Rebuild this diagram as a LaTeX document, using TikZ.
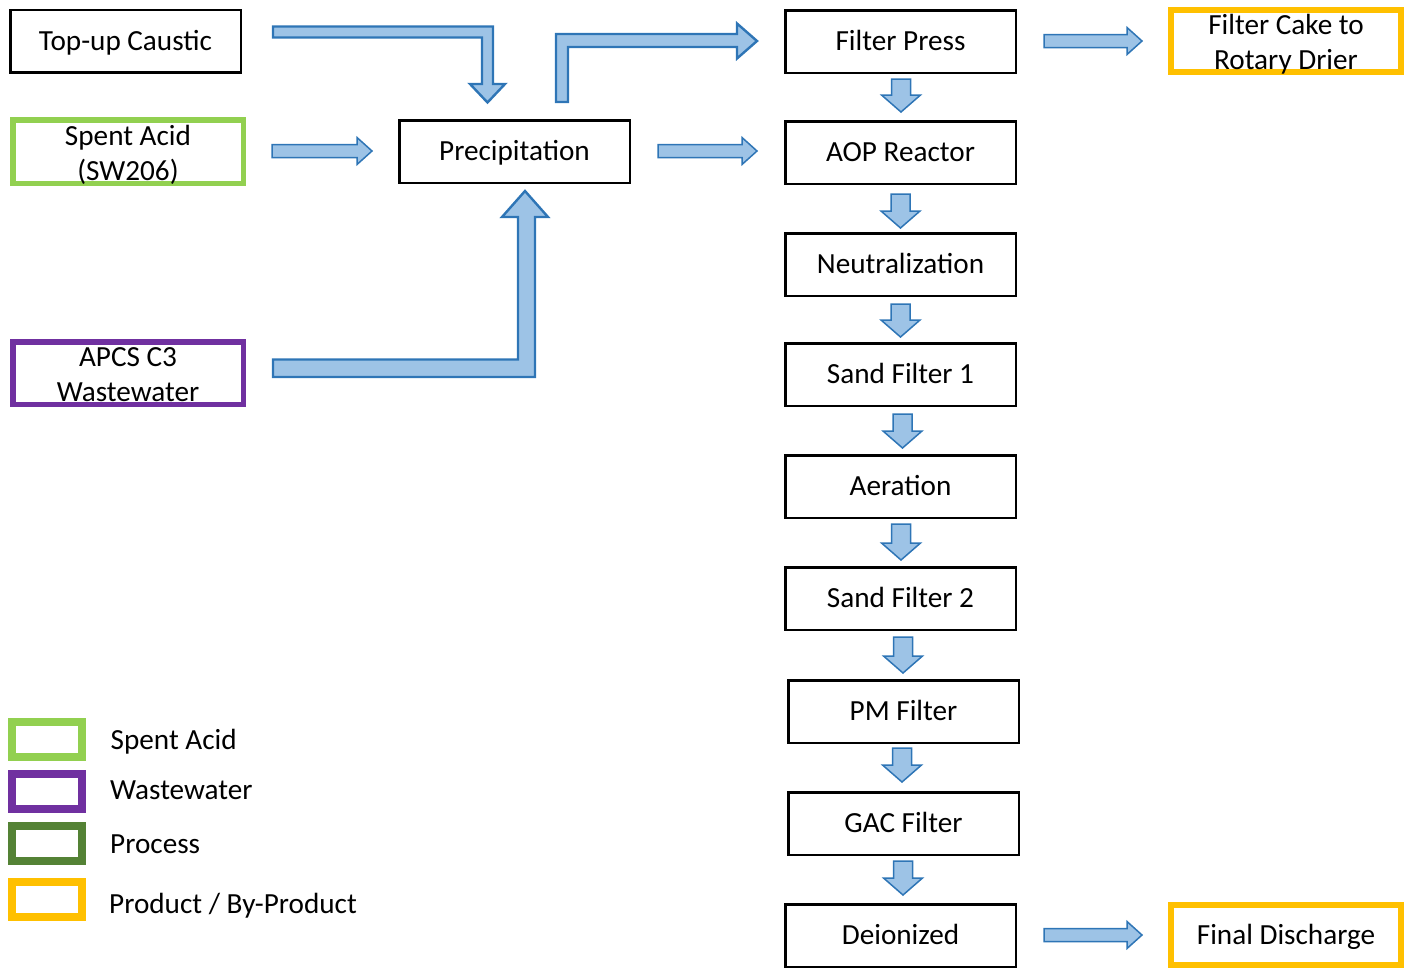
\documentclass[tikz,border=0pt]{standalone}
\usepackage{fontspec}
\setmainfont{Carlito}
\usetikzlibrary{calc}
\definecolor{blkfill}{HTML}{9DC3E6}
\definecolor{blkline}{HTML}{2E75B6}
\definecolor{acidgreen}{HTML}{92D050}
\definecolor{wwpurple}{HTML}{7030A0}
\definecolor{procgreen}{HTML}{548235}
\definecolor{prodorange}{HTML}{FFC000}
\newcommand\blkright[2]{\path[blk] let \p1=#1, \p2=#2 in
  (\x1,\y1+6.5pt) -- (\x2-15pt,\y1+6.5pt) -- (\x2-15pt,\y1+13.5pt) -- (\x2,\y1)
  -- (\x2-15pt,\y1-13.5pt) -- (\x2-15pt,\y1-6.5pt) -- (\x1,\y1-6.5pt) -- cycle;}
\newcommand\blkdown[2]{\path[blk] let \p1=#1, \p2=#2 in
  (\x1-9.5pt,\y1) -- (\x1-9.5pt,\y2+17pt) -- (\x1-19.5pt,\y2+17pt) -- (\x1,\y2)
  -- (\x1+19.5pt,\y2+17pt) -- (\x1+9.5pt,\y2+17pt) -- (\x1+9.5pt,\y1) -- cycle;}
\begin{document}
\begin{tikzpicture}[x=1pt,y=-1pt,
  txt/.style={font=\fontsize{29.2}{35}\selectfont},
  one/.style={text height=24.4pt, text depth=6pt},
  box/.style={txt, draw=black, line width=2.5pt, fill=white, inner sep=0pt,
    minimum width=230.5pt, minimum height=62.5pt},
  cbox/.style={txt, draw=#1, line width=5.5pt, fill=white, inner sep=0pt,
    minimum width=230.5pt, minimum height=62.5pt},
  legbox/.style={draw=#1, line width=8pt, fill=white, minimum width=70pt, minimum height=35pt, inner sep=0pt},
  legtxt/.style={txt, one, anchor=west, inner sep=0pt},
  blk/.style={fill=blkfill, draw=blkline, line width=1.5pt, line join=miter},
  bigblk/.style={fill=blkfill, draw=blkline, line width=2.4pt, line join=miter}]
\useasboundingbox (0,0) rectangle (1416,970);

% left column
\node[box, one] (caustic) at (125.5,41) {Top-up Caustic};
\node[cbox=acidgreen, minimum height=63.5pt,
  label={[txt, align=center, yshift=-3.5pt]center:Spent Acid\\(SW206)}] (spent) at (128,151.5) {};
\node[cbox=wwpurple,
  label={[txt, align=center, yshift=-1.5pt]center:APCS C3\\Wastewater}] (apcs) at (128,373) {};

% precipitation
\node[box, one] (precip) at (514.5,151.5) {Precipitation};

% process column
\node[box, one] (fp)   at (900.5,41.5)  {Filter Press};
\node[box, one] (aop)  at (900.5,152.5) {AOP Reactor};
\node[box, one] (neut) at (900.5,264.5) {Neutralization};
\node[box, one] (sf1)  at (900.5,374.5) {Sand Filter 1};
\node[box, one] (aer)  at (900.5,486.5) {Aeration};
\node[box, one] (sf2)  at (900.5,598.5) {Sand Filter 2};
\node[box, one] (pm)   at (903.5,711.5) {PM Filter};
\node[box, one] (gac)  at (903.5,823.5) {GAC Filter};
\node[box, one] (dei)  at (900.5,935.5) {Deionized};

% products
\node[cbox=prodorange, line width=6pt, minimum width=230pt, minimum height=62pt,
  label={[txt, align=center, yshift=-3.5pt]center:Filter Cake to\\Rotary Drier}] (cake) at (1286,41) {};
\node[cbox=prodorange, one, line width=6pt, minimum width=230pt, minimum height=60pt] (final) at (1286,935) {Final Discharge};

% straight block arrows
\blkright{($(spent.east)+(26,-0.5)$)}{($(precip.west)+(-26,0)$)}
\blkright{($(precip.east)+(27,-0.5)$)}{($(aop.west)+(-27,0)$)}
\blkright{($(fp.east)+(27,-0.5)$)}{($(cake.west)+(-26,0)$)}
\blkright{($(dei.east)+(27,-0.5)$)}{($(final.west)+(-26,0)$)}

\blkdown{($(fp.south)+(0.5,5)$)}{($(aop.north)+(0,-8)$)}
\blkdown{($(aop.south)+(0,9)$)}{($(neut.north)+(0,-4)$)}
\blkdown{($(neut.south)+(0,7)$)}{($(sf1.north)+(0,-5)$)}
\blkdown{($(sf1.south)+(2,7)$)}{($(aer.north)+(0,-6)$)}
\blkdown{($(aer.south)+(0.5,5)$)}{($(sf2.north)+(0,-6)$)}
\blkdown{($(sf2.south)+(2.5,6)$)}{($(pm.north)+(0,-6)$)}
\blkdown{($(pm.south)+(-1.5,4)$)}{($(gac.north)+(0,-9)$)}
\blkdown{($(gac.south)+(-0.5,5)$)}{($(dei.north)+(0,-8)$)}

% bent block arrows
\path[bigblk] (273,26.5) -- (493,26.5) -- (493,84) -- (505,84) -- (487.5,102.5)
  -- (470,84) -- (482,84) -- (482,37.5) -- (273,37.5) -- cycle;
\path[bigblk] (556,102) -- (556,34) -- (737,34) -- (737,23.5) -- (757,41)
  -- (737,58.5) -- (737,47) -- (568,47) -- (568,102) -- cycle;
\path[bigblk] (273,359.5) -- (518,359.5) -- (518,217) -- (502,217) -- (525,191)
  -- (548,217) -- (535,217) -- (535,377) -- (273,377) -- cycle;

% legend
\node[legbox=acidgreen]  (l1) at (47,739.5) {};
\node[legbox=wwpurple]   (l2) at (47,791.5) {};
\node[legbox=procgreen]  (l3) at (47,843.5) {};
\node[legbox=prodorange] (l4) at (47,899.5) {};
\node[legtxt] (t1) at (110.5,740) {Spent Acid};
\node[legtxt] (t2) at (110,790) {Wastewater};
\node[legtxt] (t3) at (110,844) {Process};
\node[legtxt] (t4) at (109,904) {Product / By-Product};
\end{tikzpicture}
\end{document}
